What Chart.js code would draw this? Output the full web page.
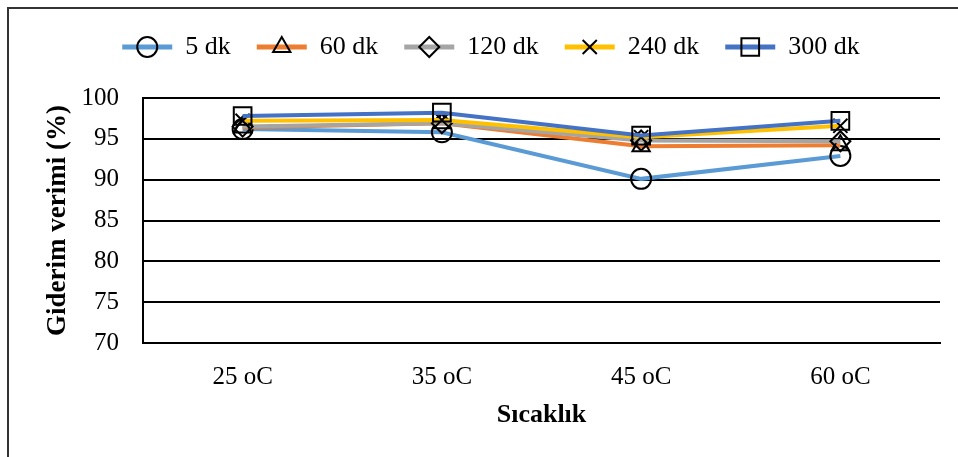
<!DOCTYPE html>
<html>
<head>
<meta charset="utf-8">
<script src="https://cdn.jsdelivr.net/npm/chart.js@4/dist/chart.umd.min.js"></script>
<style>
  html, body { margin: 0; padding: 0; background: #fff; overflow: hidden; }
  #wrap { position: relative; width: 958px; height: 457px; }
  #frame { position: absolute; left: 7px; top: 7px; width: 1000px; height: 500px;
           border: 2px solid #333; box-sizing: border-box; pointer-events: none; }
  canvas { position: absolute; left: 0; top: 0; }
</style>
</head>
<body>
<div id="wrap">
  <div id="frame"></div>
  <canvas id="c" width="958" height="457"></canvas>
</div>
<script>
// Temperatures on the x axis
const categories = ['25 oC', '35 oC', '45 oC', '60 oC'];

// Removal efficiency (%) for each contact time
const dk5   = [96.2, 95.8, 90.1, 92.9];
const dk60  = [96.4, 96.9, 94.1, 94.2];
const dk120 = [96.5, 96.9, 94.8, 94.7];
const dk240 = [97.2, 97.3, 95.2, 96.6];
const dk300 = [97.8, 98.2, 95.4, 97.2];

const seriesNames  = ['5 dk', '60 dk', '120 dk', '240 dk', '300 dk'];
const seriesValues = [dk5, dk60, dk120, dk240, dk300];
const seriesColors = ['#5B9BD5', '#ED7D31', '#A5A5A5', '#FFC000', '#4472C4'];
const seriesMarks  = ['circle', 'triangle', 'rectRot', 'crossRot', 'rect'];
const markSizes    = [10, 10, 10, 10, 12.5];

const FONT = "'Liberation Serif', 'Times New Roman', serif";

const datasets = seriesNames.map((name, i) => ({
  label: name,
  data: seriesValues[i],
  borderColor: seriesColors[i],
  backgroundColor: seriesColors[i],
  borderWidth: 4,
  pointStyle: seriesMarks[i],
  pointRadius: markSizes[i],
  pointBorderColor: '#000',
  pointBackgroundColor: 'rgba(0,0,0,0)',
  pointBorderWidth: 2,
  tension: 0,
  // later series are painted over earlier ones
  order: seriesNames.length - 1 - i
}));

// Extra space between the legend row and the plot
const legendGap = {
  id: 'legendGap',
  beforeInit(chart) {
    const fit = chart.legend.fit;
    chart.legend.fit = function () {
      fit.call(this);
      this.height += 28;
    };
  }
};

// Draws each series' marker on top of its legend line
const legendMarkers = {
  id: 'legendMarkers',
  afterDraw(chart) {
    const lg = chart.legend;
    if (!lg || !lg.legendHitBoxes) return;
    const ctx = chart.ctx;
    const bw = lg.options.labels.boxWidth;
    lg.legendItems.forEach((item, k) => {
      const box = lg.legendHitBoxes[k];
      const ds = chart.data.datasets[item.datasetIndex];
      const x = box.left + bw / 2;
      const y = box.top + box.height / 2;
      ctx.save();
      ctx.strokeStyle = '#000';
      ctx.fillStyle = 'rgba(0,0,0,0)';
      ctx.lineWidth = 2;
      Chart.helpers.drawPoint(ctx, {
        pointStyle: ds.pointStyle, radius: ds.pointRadius, rotation: 0, borderWidth: 2
      }, x, y);
      ctx.restore();
    });
  }
};

new Chart(document.getElementById('c'), {
  type: 'line',
  data: { labels: categories, datasets },
  plugins: [legendGap, legendMarkers],
  options: {
    responsive: false,
    animation: false,
    devicePixelRatio: 1,
    layout: { padding: { left: 42, right: 18, top: 8, bottom: 26 } },
    plugins: {
      tooltip: { enabled: false },
      legend: {
        position: 'top',
        align: 'center',
        labels: {
          font: { family: FONT, size: 26 },
          color: '#000',
          boxWidth: 50,
          boxHeight: 5,
          padding: 26,
          sort: (a, b) => a.datasetIndex - b.datasetIndex,
          generateLabels(chart) {
            return chart.data.datasets.map((ds, i) => ({
              text: ds.label,
              fillStyle: ds.borderColor,
              strokeStyle: ds.borderColor,
              lineWidth: 0,
              hidden: false,
              datasetIndex: i
            }));
          }
        }
      }
    },
    scales: {
      x: {
        offset: true,
        grid: { display: false, drawTicks: false },
        border: { display: true, color: '#000', width: 2 },
        ticks: { font: { family: FONT, size: 25 }, color: '#000', padding: 19 },
        title: {
          display: true, text: 'Sıcaklık', color: '#000',
          font: { family: FONT, size: 26, weight: 'bold' }, padding: { top: 4, bottom: 0 }
        },
        afterFit(scale) { scale.height = 88; }
      },
      y: {
        min: 70, max: 100,
        ticks: { stepSize: 5, font: { family: FONT, size: 25 }, color: '#000', padding: 24 },
        grid: { color: '#000', lineWidth: 2, drawTicks: false },
        border: { display: true, color: '#000', width: 2 },
        title: {
          display: true, text: 'Giderim verimi (%)', color: '#000',
          font: { family: FONT, size: 27, weight: 'bold' }, padding: { top: 0, bottom: 0 }
        },
        afterFit(scale) { scale.width = 101; }
      }
    }
  }
});
</script>
</body>
</html>
